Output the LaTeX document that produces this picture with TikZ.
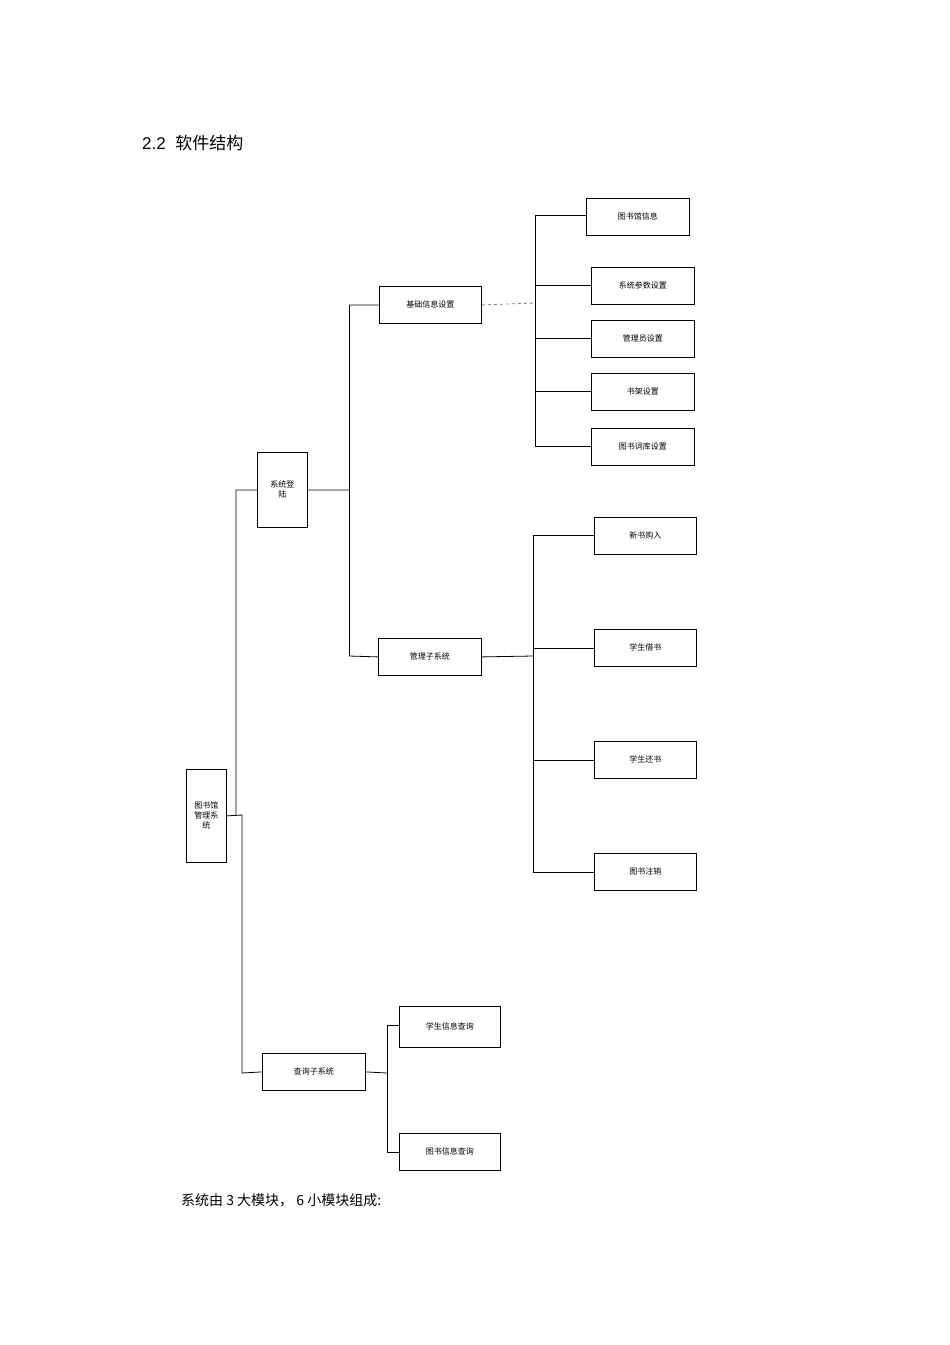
\documentclass[tikz,border=0pt]{standalone}
\usepackage{fontspec}
\setmainfont{Liberation Sans}
\newfontfamily\cjk{Noto Sans CJK SC}
\begin{document}
\begin{tikzpicture}[x=1pt,y=-1pt,
  bx/.style={draw,line width=0.8pt,font=\cjk\fontsize{8}{10}\selectfont,align=center,inner sep=0pt},
  ln/.style={line width=0.8pt}]
\useasboundingbox (0,0) rectangle (950,1345);
\newcommand{\bb}[6]{\node[bx,minimum width=#4-#2,minimum height=#5-#3,anchor=north west] (#1) at (#2,#3) {#6};}
\bb{root}{186}{769}{226}{862}{图书馆\\管理系\\统}
\bb{login}{257}{452}{307}{527}{系统登\\陆}
\bb{base}{379}{286}{481}{323}{基础信息设置}
\bb{mgr}{378}{638}{481}{675}{管理子系统}
\bb{qry}{262}{1053}{365}{1090}{查询子系统}
\bb{b1}{586}{198}{689}{235}{图书馆信息}
\bb{b2}{591}{267}{694}{304}{系统参数设置}
\bb{b3}{591}{320}{694}{357}{管理员设置}
\bb{b4}{591}{373}{694}{410}{书架设置}
\bb{b5}{591}{428}{694}{465}{图书词库设置}
\bb{m1}{594}{517}{696}{554}{新书购入}
\bb{m2}{594}{629}{696}{666}{学生借书}
\bb{m3}{594}{741}{696}{778}{学生还书}
\bb{m4}{594}{853}{696}{890}{图书注销}
\bb{q1}{399}{1006}{500}{1047}{学生信息查询}
\bb{q2}{399}{1133}{500}{1170}{图书信息查询}
% root
\draw[ln] (root.east) -- (242,815) -- (242,1073) -- (qry.west);
\draw[ln] (236,815) -- (236,490) -- (login.west);
% login
\draw[ln] (login.east) -- (349,490);
\draw[ln] (349,305) -- (349,656);
\draw[ln] (349,305) -- (base.west);
\draw[ln] (349,656) -- (mgr.west);
% base
\draw[gray,line width=0.8pt,dashed] (base.east) -- (535,303);
\draw[ln] (535,215) -- (535,446);
\foreach \n/\y in {b1/215,b2/285,b3/338,b4/391,b5/446} \draw[ln] (535,\y) -- (\n.west|-0,\y);
% mgr
\draw[ln] (mgr.east) -- (533,656);
\draw[ln] (533,535) -- (533,872);
\foreach \n/\y in {m1/535,m2/648,m3/760,m4/872} \draw[ln] (533,\y) -- (\n.west|-0,\y);
% qry
\draw[ln] (qry.east) -- (387,1073);
\draw[ln] (387,1025) -- (387,1152);
\foreach \n/\y in {q1/1025,q2/1152} \draw[ln] (387,\y) -- (\n.west|-0,\y);
\node[anchor=west,inner sep=0pt,font=\fontsize{17}{20}\selectfont] (title) at (142,143) {2.2\ \ {\cjk 软件结构}};
\node[anchor=west,inner sep=0pt,font=\cjk\fontsize{14}{17}\selectfont] (foot) at (181,1200) {系统由 3 大模块， 6 小模块组成:};
\end{tikzpicture}
\end{document}
